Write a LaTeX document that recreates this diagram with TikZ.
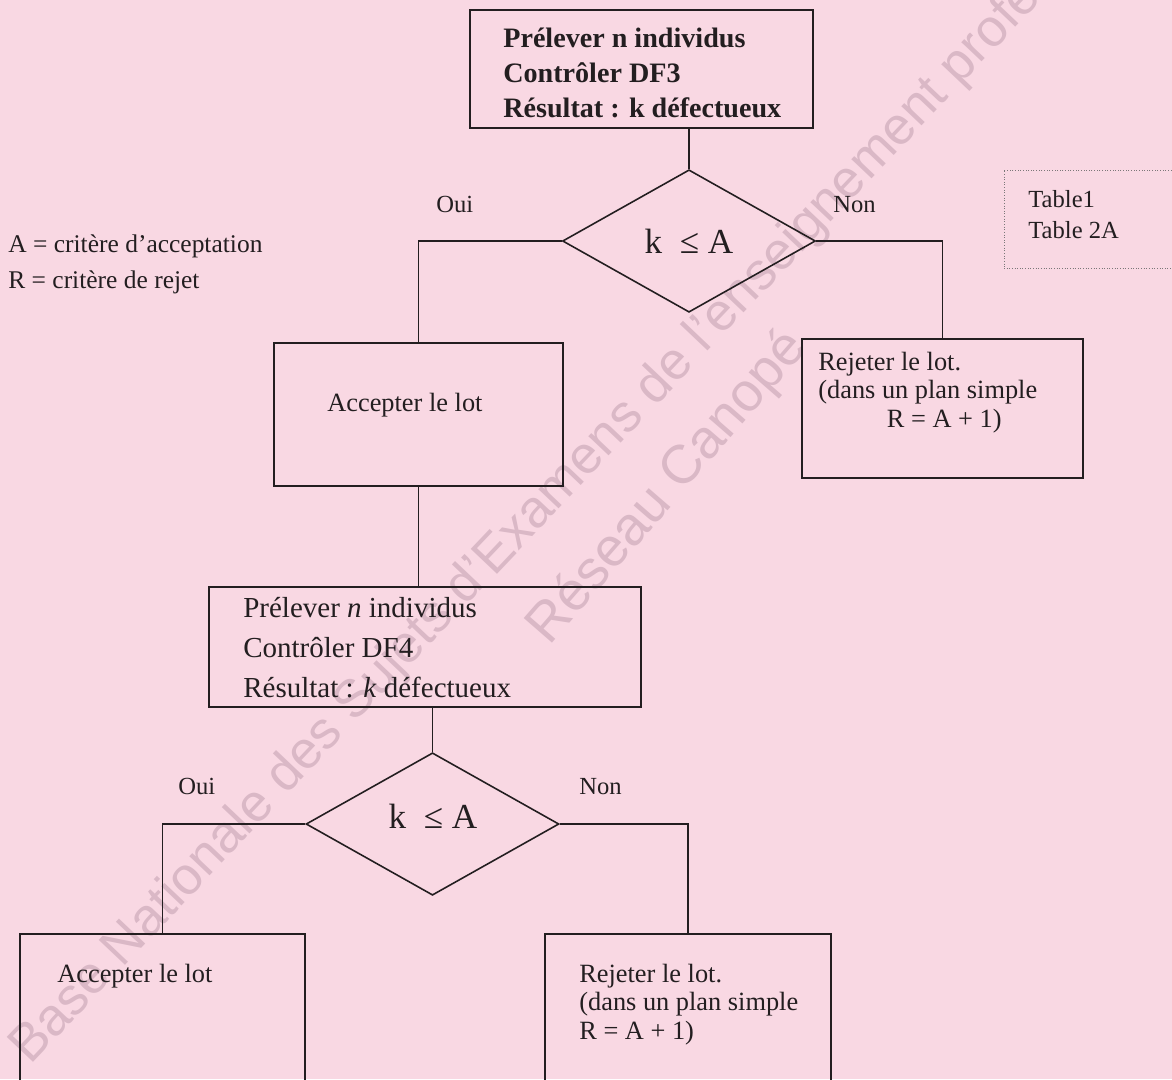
\documentclass[tikz,border=0pt]{standalone}
\usepackage{fontspec}
\setmainfont{Liberation Serif}
\setsansfont{Liberation Sans}
\usetikzlibrary{shapes.geometric}
\definecolor{paper}{RGB}{249,216,227}
\definecolor{ink}{RGB}{35,30,32}
\definecolor{stamp}{RGB}{218,184,198}

\begin{document}
\begin{tikzpicture}[x=0.02cm, y=-0.02cm,
  every node/.style={text=ink, inner sep=0pt},
  box/.style={draw=ink, line width=0.9pt, rectangle},
  test/.style={draw=ink, line width=0.9pt, diamond, minimum width=5.06cm,
               minimum height=2.85cm, font=\fontsize{20}{24}\selectfont},
  wire/.style={draw=ink, line width=0.9pt},
  txt/.style={anchor=north west, align=left, font=\fontsize{15}{16.2}\selectfont},
  ans/.style={anchor=base west, font=\fontsize{14}{16}\selectfont}]
\fill[paper] (0,0) rectangle (1172,1079);
\clip (0,0) rectangle (1172,1079);
% watermark
\node[anchor=base west, rotate=46.5, text=stamp, font=\sffamily\fontsize{30}{32}\selectfont]
  (stampA) at (30,1066) {Base Nationale des Sujets d'Examens de l'enseignement professionnel};
\node[rotate=49, text=stamp, font=\sffamily\fontsize{31}{33}\selectfont]
  (stampB) at (668,488) {Réseau Canopé};
% first control
\node[box, minimum width=6.86cm, minimum height=2.36cm] (dfiii) at (641.5,69) {};
\node[txt, font=\bfseries\fontsize{16}{20}\selectfont] (dfiiiT) at (503,22.4)
  {\strut Prélever n individus\\Contrôler DF3\\Résultat : k défectueux};
\node[test] (dkA) at (689,241) {k\enspace≤ A};
\node[box, minimum width=5.78cm, minimum height=2.86cm] (accA) at (418.5,414.5) {};
\node[ans, font=\fontsize{15}{17}\selectfont] (accAT) at (327,411) {Accepter le lot};
\node[box, minimum width=5.62cm, minimum height=2.78cm] (rejA) at (942.5,408.5) {};
\node[txt] (rejAT) at (818,350)
  {\strut Rejeter le lot.\\(dans un plan simple\\\hspace*{39pt}R = A + 1)};
\node[ans] (ouiA) at (436,212) {Oui};
\node[ans] (nonA) at (833,212) {Non};
% legend and tables
\node[txt, font=\fontsize{14.5}{20}\selectfont] (legend) at (8,228)
  {\strut A = critère d’acceptation\\R = critère de rejet};
\node[draw=ink!60, densely dotted, line width=0.5pt, minimum width=3.62cm,
      minimum height=1.96cm] (tables) at (1094.5,219) {};
\node[txt, font=\fontsize{14}{17.5}\selectfont] (tablesT) at (1028,185.5)
  {\strut Table1\\Table 2A};
% second control
\node[box, minimum width=8.64cm, minimum height=2.4cm] (dfiv) at (425,647) {};
\node[txt, font=\fontsize{16.5}{22.8}\selectfont] (dfivT) at (243,589)
  {\strut Prélever \textit{n} individus\\Contrôler DF4\\Résultat : \textit{k} défectueux};
\node[test] (dkB) at (432.5,824) {};
\node[font=\fontsize{20}{24}\selectfont] (dkBT) at (433,816) {k\enspace≤ A};
\node[box, minimum width=5.7cm, minimum height=3.72cm] (accB) at (162.5,1027) {};
\node[ans, font=\fontsize{15}{17}\selectfont] (accBT) at (57,982) {Accepter le lot};
\node[box, minimum width=5.72cm, minimum height=3.72cm] (rejB) at (688,1027) {};
\node[txt] (rejBT) at (579,962)
  {\strut Rejeter le lot.\\(dans un plan simple\\R = A + 1)};
\node[ans] (ouiB) at (178,794) {Oui};
\node[ans] (nonB) at (579,794) {Non};
% connectors
\draw[wire] (dfiii.south -| dkA.north) -- (dkA.north);
\draw[wire] (dkA.west) -| (accA.north);
\draw[wire] (dkA.east) -| (rejA.north);
\draw[wire] (accA.south) -- (accA.south |- dfiv.north);
\draw[wire] (dfiv.south -| dkB.north) -- (dkB.north);
\draw[wire] (dkB.west) -| (accB.north);
\draw[wire] (dkB.east) -| (rejB.north);
\end{tikzpicture}
\end{document}
